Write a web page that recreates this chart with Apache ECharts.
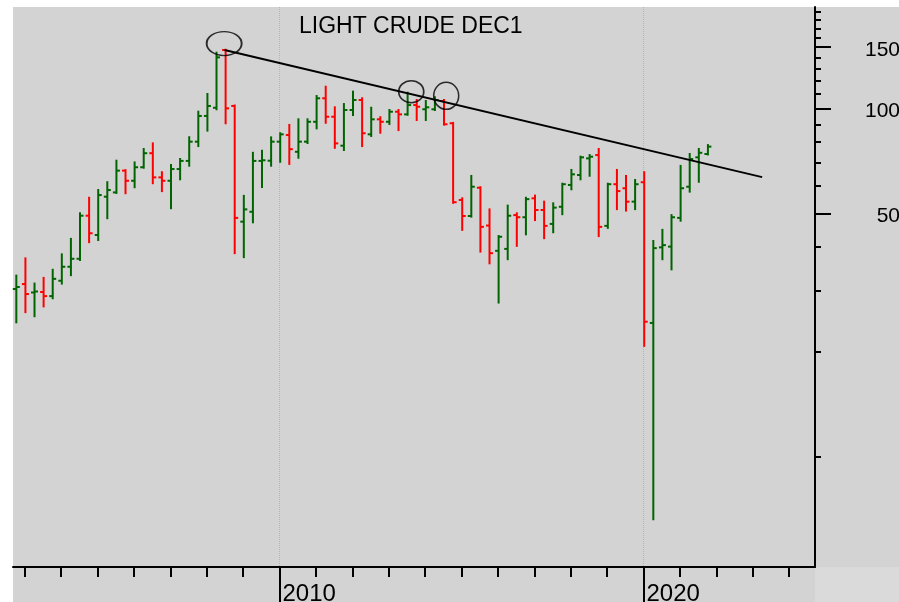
<!DOCTYPE html>
<html>
<head>
<meta charset="utf-8">
<script src="https://cdn.jsdelivr.net/npm/echarts@6/dist/echarts.min.js"></script>
<style>
html, body { margin: 0; padding: 0; background: #ffffff; }
#wrap { position: relative; width: 899px; height: 602px; background: #ffffff; overflow: hidden; }
#bg { position: absolute; left: 13px; top: 7px; right: 0; bottom: 0; background: #d3d3d3; }
#corner { position: absolute; left: 815px; top: 567px; right: 0; bottom: 0; background: #dadada; }
#chart { position: absolute; left: 0; top: 0; width: 899px; height: 602px; }
</style>
</head>
<body>
<div id="wrap"><div id="bg"></div><div id="corner"></div><div id="chart"></div></div>
<script>
// ---- data (quarterly OHLC, Light Crude Dec 2021 contract) ----
const FIRST_YEAR = 2002, FIRST_QUARTER = 4;
const open = [
  30.3,31.3,29.6,29.7,28.9,32.0,35.1,37.0,49.2,43.3,
  55.8,57.4,66.3,62.0,67.8,74.4,63.4,62.0,67.0,70.7,
  80.3,95.2,100.5,147.3,101.7,47.3,50.5,70.7,70.8,80.3,
  83.9,75.1,80.3,91.6,107.0,94.7,78.2,99.0,105.8,84.3,
  93.1,91.6,97.9,96.2,102.3,99.5,99.5,105.1,90.7,54.6,
  49.1,59.2,46.1,39.0,39.5,49.4,48.7,55.2,51.1,46.6,
  52.2,60.3,64.4,71.9,73.5,46.0,60.6,59.0,54.0,61.4,
  24.2,39.9,40.1,48.5,59.6,72.4,74.0
];
const high = [
  33.1,37.1,31.4,32.6,34.4,38.1,42.2,50.0,55.4,58.3,
  61.4,70.8,66.5,70.0,76.5,79.4,65.6,68.8,71.6,82.7,
  97.9,110.1,144.7,147.5,102.0,56.1,74.6,75.6,82.6,84.9,
  89.7,93.1,93.1,108.6,115.5,100.8,103.0,111.8,107.0,100.5,
  94.4,99.0,99.0,111.0,105.8,105.1,107.7,105.8,90.9,55.2,
  64.0,59.4,51.3,43.0,52.6,50.0,55.4,56.2,54.0,53.4,
  60.8,66.6,72.7,73.5,76.5,60.8,66.6,64.0,62.3,65.6,
  41.6,44.8,49.4,68.4,74.0,76.5,78.5
];
const low = [
  24.3,26.0,25.3,27.0,28.5,31.4,33.2,36.7,41.3,41.9,
  48.4,57.2,57.1,59.4,67.6,61.0,57.9,51.7,62.6,68.5,
  78.0,86.4,99.5,90.7,38.4,37.4,47.1,59.5,68.5,70.3,
  69.3,72.2,79.6,87.7,91.0,77.1,76.0,95.8,78.0,83.4,
  85.2,90.3,86.7,96.0,92.7,92.7,99.0,89.9,53.6,44.8,
  48.9,38.8,35.9,27.7,36.9,40.3,43.5,47.8,42.4,44.1,
  49.7,58.6,62.6,64.1,43.0,45.4,51.4,50.9,51.4,20.8,
  6.6,36.9,34.5,47.6,57.7,61.6,73.8
];
const close = [
  30.7,29.3,29.8,28.9,32.4,35.1,37.0,49.2,43.8,56.4,
  58.3,66.3,62.0,67.8,74.4,63.4,62.0,67.0,70.7,80.3,
  95.2,101.7,140.3,100.1,48.5,51.3,70.7,71.0,80.3,84.3,
  76.4,80.3,91.6,107.0,94.7,79.4,99.0,105.8,84.9,93.1,
  91.6,97.9,96.2,102.3,101.2,100.8,105.8,90.1,53.8,49.1,
  59.6,45.7,38.4,42.8,49.2,48.7,54.9,51.1,46.0,51.9,
  60.6,64.7,72.4,72.7,45.7,60.6,57.9,54.0,60.6,24.4,
  39.7,40.5,48.7,59.0,71.6,74.6,77.7
];
// trend line (from the 2008 high) and the three circled touch points: [year, price]
const trendLine = [[2008.49, 147.3], [2023.26, 63.5]];
const circledPoints = [[2008.48, 153.7], [2013.62, 111.8], [2014.58, 108.8]];

// axis ticks / labels
const xMinorTicks = [2003,2004,2005,2006,2007,2008,2009,2010,2011,2012,2013,2014,2015,2016,2017,2018,2019,2020,2021,2022,2023,2024];
const xMajorTicks = [2010, 2020];
const yMinorTicks = [10,20,30,40,60,70,80,90,110,120,130,140,160,170,180,190];
const yMajorTicks = [50, 100, 150];
const yTickLabels = [50, 100, 150];
const TITLE = 'LIGHT CRUDE DEC1';

// ---- build ----
const lg = Math.log10;
const quarterLabels = open.map((_, i) => {
  const qi = FIRST_QUARTER - 1 + i;
  return (FIRST_YEAR + Math.floor(qi / 4)) + 'Q' + (qi % 4 + 1);
});
function quarterPos(label) {
  const y = +label.slice(0, 4), q = +label.slice(5);
  return y + (q - 1) / 4 + 0.02;
}
const ohlcData = quarterLabels.map((q, i) => [quarterPos(q), lg(open[i]), lg(high[i]), lg(low[i]), lg(close[i])]);

const X_MIN = 2002.679, X_MAX = 2024.712;
const Y_MIN = 0.6825, Y_MAX = 2.2917;
const FONT = "'Liberation Sans', Arial, sans-serif";
const GREEN = '#006400', RED = '#ff0000';
const markerSizes = [[35, 24], [25, 22], [25, 27]];

const chart = echarts.init(document.getElementById('chart'), null, { renderer: 'canvas' });
const tickStyle = { color: '#000', width: 2 };
const option = {
  backgroundColor: 'transparent',
  animation: false,
  title: {
    text: TITLE, left: 299, top: 15, padding: 0,
    textStyle: { fontFamily: FONT, fontSize: 23, fontWeight: 'normal', color: '#000' }
  },
  grid: { left: 13, top: 7, right: 84, bottom: 35, containLabel: false, outerBoundsMode: 'none' },
  xAxis: [
    {
      type: 'value', min: X_MIN, max: X_MAX, position: 'bottom',
      axisLine: { show: true, onZero: false, lineStyle: { color: '#000', width: 2 } },
      axisTick: { show: true, customValues: xMinorTicks, length: 10, lineStyle: tickStyle },
      axisLabel: { show: false },
      splitLine: { show: false }
    },
    {
      type: 'value', min: X_MIN, max: X_MAX, position: 'bottom',
      axisLine: { show: false, onZero: false },
      axisTick: { show: true, customValues: xMajorTicks, length: 35, lineStyle: tickStyle },
      axisLabel: {
        show: true, customValues: xMajorTicks, align: 'left', margin: 15, padding: [0, 0, 0, 3],
        fontSize: 24, fontFamily: FONT, color: '#000', formatter: v => String(Math.round(v))
      },
      splitLine: { show: true, lineStyle: { color: '#b5b5b5', type: 'dotted', width: 1 } }
    }
  ],
  yAxis: [
    {
      type: 'value', min: Y_MIN, max: Y_MAX, position: 'right',
      axisLine: { show: true, onZero: false, lineStyle: { color: '#000', width: 2 } },
      axisTick: { show: true, customValues: yMinorTicks.map(lg), length: 6, lineStyle: tickStyle },
      axisLabel: { show: false },
      splitLine: { show: false }
    },
    {
      type: 'value', min: Y_MIN, max: Y_MAX, position: 'right',
      axisLine: { show: false, onZero: false },
      axisTick: { show: true, customValues: yMajorTicks.map(lg), length: 16, lineStyle: tickStyle },
      axisLabel: {
        show: true, customValues: yTickLabels.map(lg), align: 'right', margin: 85,
        verticalAlign: 'top', lineHeight: 5,
        fontSize: 21, fontFamily: FONT, color: '#000',
        formatter: v => String(Math.round(Math.pow(10, v)))
      },
      splitLine: { show: false }
    }
  ],
  series: [
    {
      type: 'custom', xAxisIndex: 0, yAxisIndex: 0, data: ohlcData,
      encode: { x: 0, y: [1, 2, 3, 4] },
      renderItem: function (params, api) {
        const x = api.value(0);
        const o = api.coord([x, api.value(1)]);
        const h = api.coord([x, api.value(2)]);
        const l = api.coord([x, api.value(3)]);
        const c = api.coord([x, api.value(4)]);
        const color = api.value(4) >= api.value(1) ? GREEN : RED;
        const st = { stroke: color, lineWidth: 2 };
        return {
          type: 'group',
          children: [
            { type: 'line', shape: { x1: h[0], y1: h[1] - 1, x2: l[0], y2: l[1] + 1 }, style: st },
            { type: 'line', shape: { x1: o[0] - 3.5, y1: o[1], x2: o[0], y2: o[1] }, style: st },
            { type: 'line', shape: { x1: c[0], y1: c[1], x2: c[0] + 3.5, y2: c[1] }, style: st }
          ]
        };
      }
    },
    {
      type: 'line', xAxisIndex: 0, yAxisIndex: 0, z: 4,
      data: trendLine.map(p => [p[0], lg(p[1])]),
      symbol: 'none', lineStyle: { color: '#000', width: 2 }, silent: true
    },
    {
      type: 'scatter', xAxisIndex: 0, yAxisIndex: 0, z: 5,
      data: circledPoints.map(p => [p[0], lg(p[1])]),
      symbol: 'circle',
      symbolSize: (val, params) => markerSizes[params.dataIndex],
      itemStyle: { color: 'rgba(0,0,0,0)', borderColor: '#000', borderWidth: 1.6 },
      silent: true
    }
  ]
};
chart.setOption(option);
</script>
</body>
</html>
